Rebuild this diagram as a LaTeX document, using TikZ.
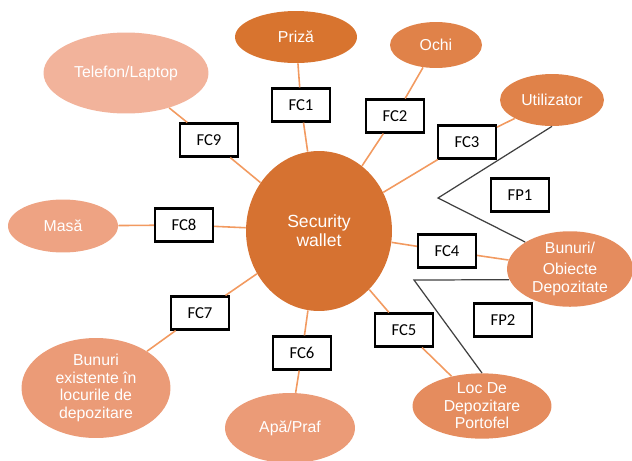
\documentclass[tikz,border=0pt]{standalone}
\usepackage{fontspec}
\setmainfont{Liberation Sans}
\newfontfamily\boxfont{Carlito}
\usetikzlibrary{shapes.geometric}

\definecolor{walletorange}{HTML}{D67231}
\definecolor{darkorange}{HTML}{D8742F}
\definecolor{midorange}{HTML}{E08249}
\definecolor{softorange}{HTML}{E58C5E}
\definecolor{paleorange}{HTML}{EB9B77}
\definecolor{lightorange}{HTML}{EEA383}
\definecolor{pinkorange}{HTML}{F2B39B}
\definecolor{linkorange}{HTML}{F29A60}

\begin{document}
\begin{tikzpicture}[x=0.02cm, y=-0.02cm,
  item/.style={ellipse, inner sep=0pt, text=white, align=center, font=\fontsize{9}{10}\selectfont},
  fcbox/.style={rectangle, draw=black, line width=1.2pt, fill=white, minimum width=1.16cm, minimum height=0.66cm, inner sep=0pt, font=\boxfont\fontsize{9.5}{11}\selectfont},
  link/.style={draw=linkorange, line width=0.9pt},
  fpline/.style={draw=black!75, line width=0.7pt}]
  \useasboundingbox (0,0) rectangle (632,460);

  % centre and surrounding elements
  \node[item, fill=walletorange, minimum width=2.92cm, minimum height=3.2cm, font=\fontsize{10}{11}\selectfont] (wallet) at (319,231) {Security\\wallet};
  \node[item, fill=darkorange, minimum width=2.44cm, minimum height=1.04cm] (priza) at (296,37) {Priză};
  \node[item, fill=midorange, minimum width=1.84cm, minimum height=0.92cm] (ochi) at (436,45) {Ochi};
  \node[item, fill=midorange, minimum width=2.08cm, minimum height=1.04cm] (util) at (552,100) {Utilizator};
  \node[item, fill=softorange, minimum width=2.52cm, minimum height=1.44cm] (bunuri) at (570,269) {Bunuri/\\[2pt]Obiecte\\Depozitate};
  \node[item, fill=softorange, minimum width=2.78cm, minimum height=1.26cm] (loc) at (482,406) {Loc De\\Depozitare\\Portofel};
  \node[item, fill=paleorange, minimum width=2.6cm, minimum height=1.4cm] (apa) at (290,428) {Apă/Praf};
  \node[item, fill=paleorange, minimum width=2.98cm, minimum height=2.0cm] (existente) at (96,388) {Bunuri\\existente în\\locurile de\\depozitare};
  \node[item, fill=lightorange, minimum width=2.2cm, minimum height=1.06cm] (masa) at (63,226) {Masă};
  \node[item, fill=pinkorange, minimum width=3.3cm, minimum height=1.62cm] (telefon) at (126,73) {Telefon/Laptop};

  % interface labels
  \node[fcbox] (fc1) at (301,105) {FC1};
  \node[fcbox] (fc2) at (395,116) {FC2};
  \node[fcbox] (fc3) at (467,142) {FC3};
  \node[fcbox] (fc4) at (447,251) {FC4};
  \node[fcbox] (fc5) at (404,330) {FC5};
  \node[fcbox] (fc6) at (302,353) {FC6};
  \node[fcbox] (fc7) at (200,313) {FC7};
  \node[fcbox] (fc8) at (184,225) {FC8};
  \node[fcbox] (fc9) at (209,140) {FC9};
  \node[fcbox] (fp1) at (520,195) {FP1};
  \node[fcbox] (fp2) at (503,320) {FP2};

  % links from the wallet
  \draw[link] (wallet) -- (fc1) -- (priza);
  \draw[link] (wallet) -- (fc2) -- (ochi);
  \draw[link] (wallet) -- (fc3) -- (util);
  \draw[link] (wallet) -- (fc4) -- (bunuri);
  \draw[link] (wallet) -- (fc5) -- (loc);
  \draw[link] (wallet) -- (fc6) -- (apa);
  \draw[link] (wallet) -- (fc7) -- (existente);
  \draw[link] (wallet) -- (fc8) -- (masa);
  \draw[link] (wallet) -- (fc9) -- (telefon);

  % FP brackets
  \coordinate (fp1tip) at (438,198);
  \coordinate (fp2tip) at (414,280);
  \draw[fpline] (util.south) -- (fp1tip) -- (bunuri.north west);
  \draw[fpline] (bunuri.190) -- (fp2tip) -- (loc.north);
\end{tikzpicture}
\end{document}
